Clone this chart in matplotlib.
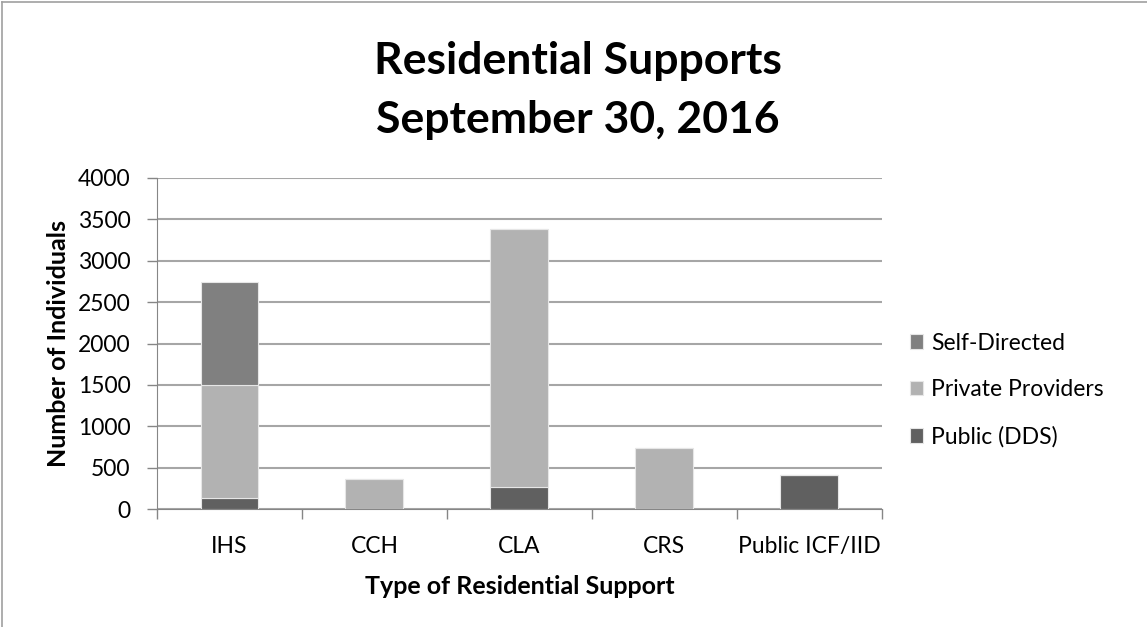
import matplotlib.pyplot as plt
import numpy as np
from matplotlib.lines import Line2D

plt.rcParams['font.family'] = ['Lato', 'DejaVu Sans']

categories = ["IHS", "CCH", "CLA", "CRS", "Public ICF/IID"]
public_dds = [140, 0, 270, 0, 412]
private_providers = [1356, 363, 3115, 742, 0]
self_directed = [1246, 0, 0, 0, 0]

col_public = "#606060"
col_private = "#b2b2b2"
col_self = "#808080"
grid_col = "#a6a6a6"

fig = plt.figure(figsize=(11.47, 6.27), dpi=100)
ax = fig.add_axes([0.1369, 0.1877, 0.6318, 0.5289])

x = np.arange(len(categories))
w = 0.4
pub = np.array(public_dds)
priv = np.array(private_providers)
selfd = np.array(self_directed)

b1 = ax.bar(x, pub, w, color=col_public, edgecolor="#e6e6e6", linewidth=0.8, label="Public (DDS)", zorder=3)
b2 = ax.bar(x, priv, w, bottom=pub, color=col_private, edgecolor="#e6e6e6", linewidth=0.8, label="Private Providers", zorder=3)
b3 = ax.bar(x, selfd, w, bottom=pub + priv, color=col_self, edgecolor="#e6e6e6", linewidth=0.8, label="Self-Directed", zorder=3)

ax.set_ylim(0, 4000)
ax.set_xlim(-0.5, 4.5)
ax.set_yticks(np.arange(0, 4001, 500))
ax.yaxis.grid(True, color=grid_col, linewidth=1.5, zorder=0)
ax.set_axisbelow(True)

# categories ticks sit between bars
ax.set_xticks(x)
ax.set_xticklabels(categories)
ax.set_xticks(np.arange(-0.5, 5, 1), minor=True)
ax.tick_params(axis="x", which="major", length=0, pad=19, labelsize=16.5)
ax.tick_params(axis="x", which="minor", length=7, width=1, color="#868686")
ax.tick_params(axis="y", length=7, width=1, color="#868686", labelsize=16.5, pad=12)

for s in ["top", "right"]:
    ax.spines[s].set_visible(False)
ax.spines["left"].set_color("#868686")
ax.spines["bottom"].set_color("#868686")

ax.set_xlabel("Type of Residential Support", fontsize=18, fontweight="bold", labelpad=13)
ax.set_ylabel("Number of Individuals", fontsize=18, fontweight="bold", labelpad=6)

fig.text(0.504, 0.855, "Residential Supports\nSeptember 30, 2016", ha="center", va="center",
         fontsize=32, fontweight="bold", linespacing=1.58)

handles = [b3, b2, b1]
ax.legend(handles, [h.get_label() for h in handles], loc="center left",
          bbox_to_anchor=(0.783, 0.378), bbox_transform=fig.transFigure,
          frameon=False, fontsize=16.5, labelspacing=1.12,
          handlelength=0.6, handleheight=0.6, handletextpad=0.35, borderpad=0)

# chart border (left and top only visible in the crop)
fig.add_artist(Line2D([0.0017, 0.0017], [0, 0.9968], transform=fig.transFigure, color="#a0a0a0", linewidth=1.2))
fig.add_artist(Line2D([0.0017, 1], [0.9968, 0.9968], transform=fig.transFigure, color="#a0a0a0", linewidth=1.2))

fig.savefig("out.png", dpi=100)
